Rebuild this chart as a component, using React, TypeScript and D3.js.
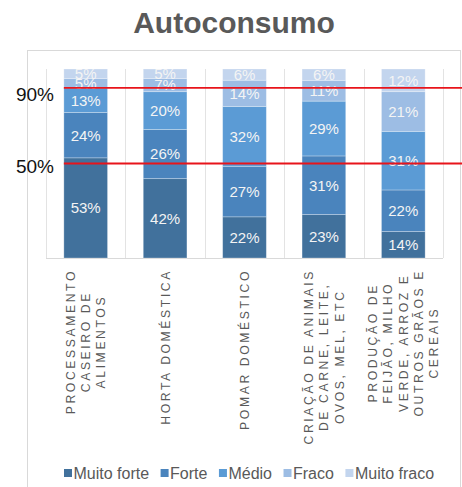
import React, { useRef, useEffect } from 'react';
import * as d3 from 'd3';

const categories = [
  'Processamento',
  'Horta',
  'Pomar',
  'Criação',
  'Produção',
];

const categoryLines = [
  ['PROCESSAMENTO', 'CASEIRO DE', 'ALIMENTOS'],
  ['HORTA DOMÉSTICA'],
  ['POMAR DOMÉSTICO'],
  ['CRIAÇÃO DE ANIMAIS', 'DE CARNE, LEITE,', 'OVOS, MEL, ETC'],
  ['PRODUÇÃO DE', 'FEIJÃO, MILHO', 'VERDE, ARROZ E', 'OUTROS GRÃOS E', 'CEREAIS'],
];

const seriesNames = ['Muito forte', 'Forte', 'Médio', 'Fraco', 'Muito fraco'];

const muitoForte = [53, 42, 22, 23, 14];
const forte = [24, 26, 27, 31, 22];
const medio = [13, 20, 32, 29, 31];
const fraco = [5, 7, 14, 11, 21];
const muitoFraco = [5, 5, 6, 6, 12];

const seriesColors = ['#41719c', '#4a84bd', '#5b9bd5', '#9dbde4', '#c3d5ee'];

const refLines = [0.9, 0.5];
const refLabels = ['90%', '50%'];

const FONT = '"Liberation Sans", Arial, sans-serif';

const App: React.FC = () => {
  const svgRef = useRef<SVGSVGElement>(null);
  const width = 462;
  const height = 487;

  useEffect(() => {
    if (!svgRef.current) return;
    const svg = d3.select(svgRef.current);
    svg.selectAll('*').remove();

    const allSeries = [muitoForte, forte, medio, fraco, muitoFraco];
    const rows = categories.map((c, i) => {
      const row: any = { cat: c };
      seriesNames.forEach((s, j) => (row[s] = allSeries[j][i]));
      return row;
    });

    const x = d3.scaleBand<string>()
      .domain(categories)
      .range([46, 443])
      .paddingInner(0.45)
      .paddingOuter(0.225);
    const step = x.step();
    const y = d3.scaleLinear().domain([0, 1]).range([258, 69]);

    const stack = d3.stack<any>().keys(seriesNames).offset(d3.stackOffsetExpand);
    const stacked = stack(rows);

    // title
    svg.append('text')
      .attr('x', 234)
      .attr('y', 33)
      .attr('text-anchor', 'middle')
      .style('font-family', FONT)
      .style('font-size', '30px')
      .style('font-weight', 'bold')
      .style('fill', '#595959')
      .text('Autoconsumo');

    // chart frame
    svg.append('rect')
      .attr('x', 27.5)
      .attr('y', 50.5)
      .attr('width', 433)
      .attr('height', 460)
      .attr('fill', 'none')
      .attr('stroke', '#d9d9d9');

    // vertical gridlines at category boundaries
    const bounds = categories.map((c) => (x(c) as number) - (step * x.paddingInner()) / 2);
    bounds.push(x.range()[1]);
    svg.append('g')
      .selectAll('line')
      .data(bounds)
      .enter()
      .append('line')
      .attr('x1', (d) => Math.round(d) + 0.5)
      .attr('x2', (d) => Math.round(d) + 0.5)
      .attr('y1', y(1))
      .attr('y2', y(0))
      .attr('stroke', '#e3e3e3');

    svg.append('line')
      .attr('x1', x.range()[0])
      .attr('x2', x.range()[1])
      .attr('y1', y(0) + 0.5)
      .attr('y2', y(0) + 0.5)
      .attr('stroke', '#d9d9d9');

    // bars
    const layers = svg.append('g')
      .selectAll('g')
      .data(stacked)
      .enter()
      .append('g')
      .attr('fill', (d, i) => seriesColors[i]);

    layers.selectAll('rect')
      .data((d) => d.map((p) => ({ p, key: d.key })))
      .enter()
      .append('rect')
      .attr('x', (d) => x(d.p.data.cat) as number)
      .attr('width', x.bandwidth())
      .attr('y', (d) => y(d.p[1]))
      .attr('height', (d) => y(d.p[0]) - y(d.p[1]))
      .attr('stroke', 'rgba(255,255,255,0.35)')
      .attr('stroke-width', 0.8);

    // value labels
    stacked.forEach((layer, si) => {
      svg.append('g')
        .selectAll('text')
        .data(layer)
        .enter()
        .append('text')
        .attr('x', (d) => (x(d.data.cat) as number) + x.bandwidth() / 2)
        .attr('y', (d) => y((d[0] + d[1]) / 2))
        .attr('dy', '0.36em')
        .attr('text-anchor', 'middle')
        .style('font-family', FONT)
        .style('font-size', '15px')
        .style('fill', '#f4f4f4')
        .text((d, i) => `${allSeries[si][i]}%`);
    });

    // reference lines
    svg.append('g')
      .selectAll('line')
      .data(refLines)
      .enter()
      .append('line')
      .attr('x1', x(categories[0]) as number)
      .attr('x2', width)
      .attr('y1', (d) => y(d))
      .attr('y2', (d) => y(d))
      .attr('stroke', '#e8141b')
      .attr('stroke-width', 1.8);

    svg.append('g')
      .selectAll('text')
      .data(refLines)
      .enter()
      .append('text')
      .attr('x', 54)
      .attr('y', (d, i) => y(d) + (i === 0 ? 13 : 9))
      .attr('text-anchor', 'end')
      .style('font-family', FONT)
      .style('font-size', '19px')
      .style('fill', '#111')
      .text((d, i) => refLabels[i]);

    // category labels (rotated)
    const lineGap = 15.3;
    const top = 269;
    categories.forEach((c, ci) => {
      const cx = (x(c) as number) + x.bandwidth() / 2;
      const g = svg.append('g').attr('transform', `translate(${cx},${top}) rotate(-90)`);
      const lines = categoryLines[ci];
      const texts = g.selectAll('text')
        .data(lines)
        .enter()
        .append('text')
        .attr('y', (d, i) => (i - (lines.length - 1) / 2) * lineGap)
        .attr('dy', '0.36em')
        .attr('text-anchor', 'middle')
        .style('font-family', FONT)
        .style('font-size', '12.2px')
        .style('letter-spacing', '2.6px')
        .style('fill', '#595959')
        .text((d) => d);
      let maxLen = 0;
      texts.each(function () {
        maxLen = Math.max(maxLen, (this as SVGTextElement).getComputedTextLength());
      });
      texts.attr('x', -maxLen / 2);
    });

    // legend
    const legend = svg.append('g');
    let lx = 64;
    seriesNames.forEach((s, i) => {
      legend.append('rect')
        .attr('x', lx)
        .attr('y', 469)
        .attr('width', 8)
        .attr('height', 8)
        .attr('fill', seriesColors[i]);
      const t = legend.append('text')
        .attr('x', lx + 9.5)
        .attr('y', 478.5)
        .style('font-family', FONT)
        .style('font-size', '16px')
        .style('fill', '#595959')
        .text(s);
      const w = (t.node() as SVGTextElement).getComputedTextLength();
      lx += 9.5 + w + 11.5;
    });
  }, []);

  return (
    <svg
      ref={svgRef}
      width={width}
      height={height}
      style={{ position: 'absolute', left: 0, top: 0, background: '#fff' }}
    />
  );
};

export default App;
